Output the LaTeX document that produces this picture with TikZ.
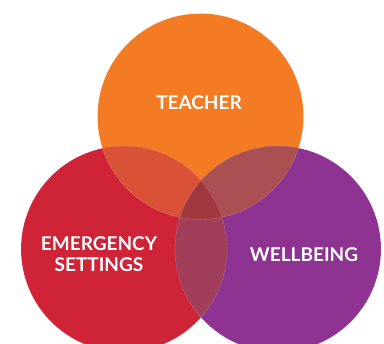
\documentclass[tikz,border=0pt]{standalone}
\usepackage{fontspec}
\setmainfont{Lato}
\usepackage{tikz}

\definecolor{teachorange}{HTML}{F27B24}
\definecolor{emergred}{HTML}{CF2338}
\definecolor{wellpurple}{HTML}{8E3391}
\definecolor{tered}{HTML}{D95137}
\definecolor{twpurple}{HTML}{AA5052}
\definecolor{ewpurple}{HTML}{A13F5B}
\definecolor{allthree}{HTML}{A1373F}

\begin{document}
\begin{tikzpicture}[x=1pt, y=-1pt, label/.style={text=white, font=\fontsize{19}{21.7}\selectfont\bfseries, align=center}]
        \useasboundingbox (0,0) rectangle (384,344);
        \def\rad{103}
        \coordinate (T) at (200.5,116.5);
        \coordinate (E) at (124,249);
        \coordinate (W) at (278,249);

        \begin{scope}
            \clip (0,0) rectangle (384,344);
            \fill[teachorange] (T) circle (\rad);
            \fill[emergred] (E) circle (\rad);
            \fill[wellpurple] (W) circle (\rad);
            \begin{scope}
                \clip (T) circle (\rad);
                \fill[tered] (E) circle (\rad);
                \fill[twpurple] (W) circle (\rad);
            \end{scope}
            \begin{scope}
                \clip (E) circle (\rad);
                \fill[ewpurple] (W) circle (\rad);
                \clip (T) circle (\rad);
                \fill[allthree] (W) circle (\rad);
            \end{scope}
            \draw[white, opacity=0.3, line width=0.3pt] (T) circle (\rad) (E) circle (\rad) (W) circle (\rad);
        \end{scope}

        \node[label] (teacher) at (199,102.7) {TEACHER};
        \node[label] (emergency) at (99,254) {EMERGENCY\\SETTINGS};
        \node[label] (wellbeing) at (304,255) {WELLBEING};
    \end{tikzpicture}
\end{document}
